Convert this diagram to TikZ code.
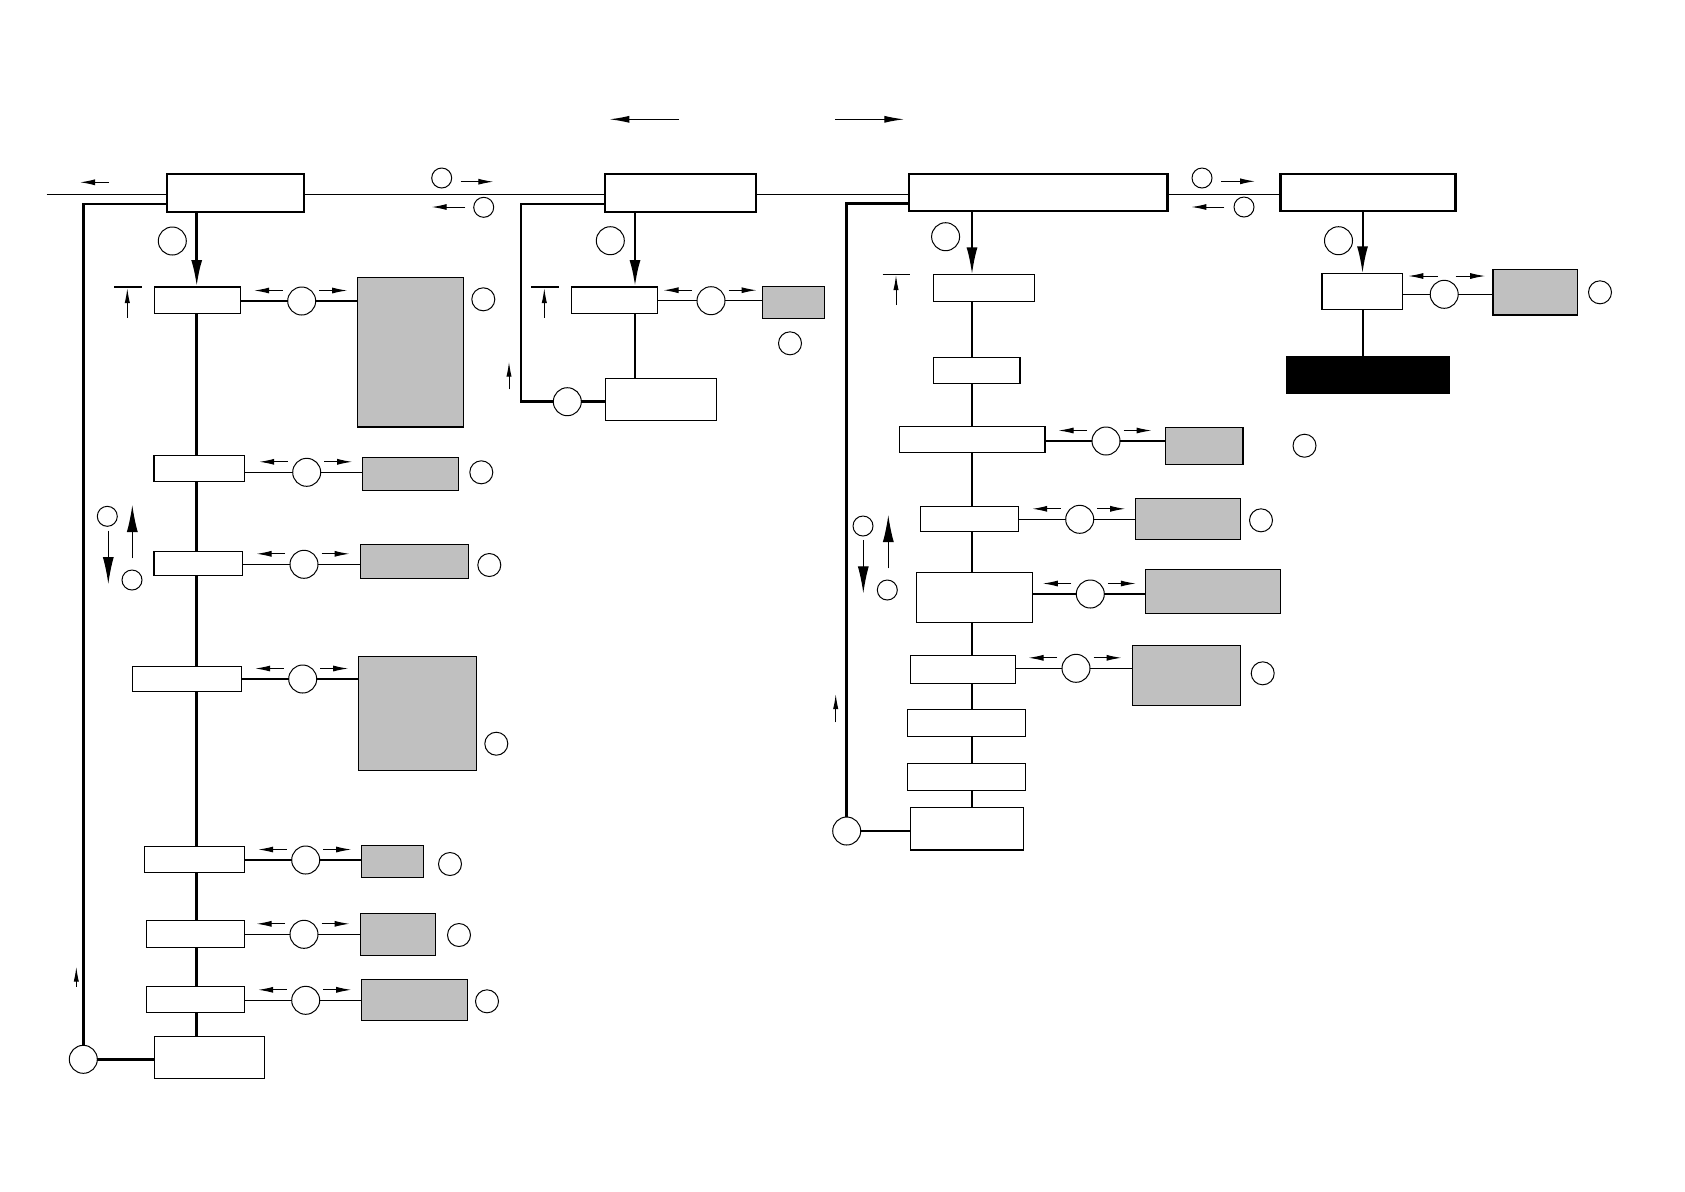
\documentclass[tikz,border=0pt]{standalone}
\usetikzlibrary{arrows.meta}
\definecolor{boxgray}{RGB}{192,192,192}
\tikzset{
 every node/.style={inner sep=0pt, outer sep=0pt},
 wbox/.style={draw, fill=white, line width=0.6pt},
 hbox/.style={draw, fill=white, line width=1.1pt},
 gbox/.style={draw, fill=boxgray, line width=0.6pt},
 kbox/.style={draw, fill=black, line width=0.6pt},
 bigc/.style={circle, draw, fill=white, line width=0.5pt, minimum size=14pt},
 lblc/.style={circle, draw, line width=0.5pt, minimum size=11.5pt},
 smc/.style={circle, draw, line width=0.5pt, minimum size=10pt},
 thinln/.style={line width=0.6pt},
 thickln/.style={line width=1.4pt},
 sarr/.style={line width=0.5pt, -{Latex[length=7.5pt,width=3pt]}},
 tarr/.style={line width=0.6pt, -{Latex[length=10pt,width=3.5pt]}},
 barr/.style={line width=1.4pt, -{Latex[length=13.5pt,width=5.5pt]}},
 garr/.style={line width=0.6pt, -{Latex[length=13.5pt,width=5.5pt]}},
 uarr/.style={line width=0.5pt, -{Latex[length=7.5pt,width=2.6pt]}},
}
\newcommand\mkbox[6]{\pgfmathsetmacro\myBw{(#5-#3)*0.5}\pgfmathsetmacro\myBh{(#6-#4)*0.5}%
 \node[#1,minimum width=\myBw pt,minimum height=\myBh pt] (#2) at ({(#3+#5)/2},{(#4+#6)/2}) {};}
\newcommand\arrs[1]{%
 \draw[sarr] ([shift={(-19,-10.5)}]#1.center) -- ++(-28.5,0);
 \draw[sarr] ([shift={(17.5,-10.5)}]#1.center) -- ++(28,0);}
\newcommand\conn[3]{%
 \draw[thinln] (#1.east |- #2) -- (#2);
 \draw[thinln] (#2) -- (#3.west |- #2);}
\begin{document}
\begin{tikzpicture}[x=0.5pt,y=-0.5pt]
\useasboundingbox (0,0) rectangle (1685,1191);
\fill[white] (0,0) rectangle (1685,1191);
% coordinates
\coordinate (m0) at (46.7,194.3);
\coordinate (sA) at (196.7,0);
\coordinate (sB) at (635,0);
\coordinate (sC) at (972,0);
\coordinate (sD) at (1362.5,0);
% header boxes
\mkbox{hbox}{A1}{166.7}{174.3}{304}{211.7}
\mkbox{hbox}{B1}{605}{174.3}{756}{211.7}
\mkbox{hbox}{C1}{909.2}{174.3}{1167.5}{211.3}
\mkbox{hbox}{D1}{1280.5}{174.3}{1455.5}{211.3}
% main line
\draw[thinln] (m0) -- (A1.west |- m0);
\draw[thinln] (A1.east |- m0) -- (B1.west |- m0);
\draw[thinln] (B1.east |- m0) -- (C1.west |- m0);
\draw[thinln] (C1.east |- m0) -- (D1.west |- m0);
% top arrows
\coordinate (t1) at (679,119.3);
\coordinate (t2) at (835,119.3);
\draw[tarr] (t1) -- ++(-69.7,0);
\draw[tarr] (t2) -- ++(69.3,0);
\coordinate (t0) at (109,182.3);
\draw[sarr] (t0) -- ++(-29,0);
% A-B and C-D header circles/arrows
\node[smc] (ab1) at (441.7,178) {};
\node[smc] (ab2) at (483.7,207.3) {};
\draw[sarr] ([shift={(19,3.7)}]ab1.center) -- ++(32.6,0);
\draw[sarr] ([shift={(-18.4,-0.3)}]ab2.center) -- ++(-33.6,0);
\node[smc] (cd1) at (1202,178) {};
\node[smc] (cd2) at (1244,207) {};
\draw[sarr] ([shift={(19,3.3)}]cd1.center) -- ++(34,0);
\draw[sarr] ([shift={(-19.6,0)}]cd2.center) -- ++(-33,0);

%================ A column
\node[bigc] (hA) at (172.3,241) {};
\mkbox{wbox}{A2}{154.3}{287}{240.3}{313.3}
\mkbox{wbox}{A3}{154}{455.3}{244.3}{481.3}
\mkbox{wbox}{A4}{154}{551.3}{242.3}{575.3}
\mkbox{wbox}{A5}{132.3}{666.3}{241.7}{691.3}
\mkbox{wbox}{A6}{144.3}{846.3}{244.7}{872.3}
\mkbox{wbox}{A7}{146.3}{920.3}{244.7}{947.3}
\mkbox{wbox}{A8}{146.3}{986.3}{244.7}{1012.3}
\mkbox{wbox}{A9}{154.3}{1036.3}{264.3}{1078.3}
\draw[barr] (A1.south -| sA) -- (A2.north -| sA);
\foreach \p/\q in {A2/A3,A3/A4,A4/A5,A5/A6,A6/A7,A7/A8,A8/A9}
  \draw[thickln] (\p.south -| sA) -- (\q.north -| sA);
\mkbox{gbox}{GA2}{357.3}{277.3}{463.3}{427}
\mkbox{gbox}{GA3}{362.3}{457.3}{458.3}{490.3}
\mkbox{gbox}{GA4}{360.3}{544.3}{468.3}{578.3}
\mkbox{gbox}{GA5}{358.3}{656.3}{476.3}{770.3}
\mkbox{gbox}{GA6}{361.3}{845.3}{423.3}{877.3}
\mkbox{gbox}{GA7}{360.3}{913.3}{435.7}{955.3}
\mkbox{gbox}{GA8}{361.3}{979.7}{467.3}{1020.3}
\node[bigc] (cA2) at (301.7,301) {};
\node[bigc] (cA3) at (306.7,472.3) {};
\node[bigc] (cA4) at (304,564.3) {};
\node[bigc] (cA5) at (302.7,679) {};
\node[bigc] (cA6) at (305.7,860) {};
\node[bigc] (cA7) at (304,934.3) {};
\node[bigc] (cA8) at (305.7,1000.3) {};
\foreach \n in {2,3,4,5,6,7,8}{\conn{A\n}{cA\n}{GA\n}\arrs{cA\n}}
\node[lblc] (lA2) at (483.3,299.3) {};
\node[lblc] (lA3) at (481.3,472.3) {};
\node[lblc] (lA4) at (489.3,565) {};
\node[lblc] (lA5) at (496.3,743.7) {};
\node[lblc] (lA6) at (450,864) {};
\node[lblc] (lA7) at (459,935) {};
\node[lblc] (lA8) at (487,1001.3) {};
% bar symbol A
\coordinate (barA) at (114,286.7);
\draw[line width=1pt] (barA) -- ++(27.7,0);
\coordinate (barAa) at (127.3,317.7);
\draw[uarr] (barAa) -- ++(0,-29.7);
% left group A
\node[smc] (gA1) at (107.3,516.3) {};
\node[smc] (gA2) at (132,580) {};
\draw[garr] ([shift={(1,14.4)}]gA1.center) -- ++(0,53.3);
\draw[garr] ([shift={(0.3,-21.7)}]gA2.center) -- ++(0,-53.3);
% return A
\node[bigc] (rA) at (83.3,1059.3) {};
\draw[thickln] (A1.west |- 0,204) -| (rA);
\draw[thickln] (rA) -- (A9.west |- rA);
\coordinate (uA) at (76.3,986.7);
\draw[uarr] (uA) -- ++(0,-20);

%================ B column
\node[bigc] (hB) at (610.3,240.7) {};
\mkbox{wbox}{B2}{571.3}{287}{657.3}{313.3}
\mkbox{wbox}{B3}{605.3}{378.3}{716.7}{420.3}
\mkbox{gbox}{GB2}{762.3}{286.3}{824.3}{318.3}
\draw[barr] (B1.south -| sB) -- (B2.north -| sB);
\draw[thickln] (B2.south -| sB) -- (B3.north -| sB);
\node[bigc] (cB2) at (711,300.7) {};
\conn{B2}{cB2}{GB2}\arrs{cB2}
\node[lblc] (lB2) at (790,343.3) {};
\coordinate (barB) at (531,286.7);
\draw[line width=1pt] (barB) -- ++(28,0);
\coordinate (barBa) at (544.3,317.7);
\draw[uarr] (barBa) -- ++(0,-29.7);
\node[bigc] (rB) at (567.3,401.7) {};
\draw[thickln] (B1.west |- 0,204) -| (521,401.7) -- (rB);
\draw[thickln] (rB) -- (B3.west |- rB);
\coordinate (uB) at (509,389.3);
\draw[uarr] (uB) -- ++(0,-27.6);

%================ C column
\node[bigc] (hC) at (945.6,236.7) {};
\mkbox{wbox}{C2}{933.8}{274.3}{1034.4}{301.3}
\mkbox{wbox}{C3}{933.8}{357.3}{1020}{383.3}
\mkbox{wbox}{C4}{899.5}{426.3}{1045}{452.3}
\mkbox{wbox}{C5}{920.3}{506.3}{1018.7}{531.3}
\mkbox{wbox}{C6}{916.3}{572.3}{1032.3}{622.3}
\mkbox{wbox}{C7}{910.3}{655.3}{1015.3}{683.3}
\mkbox{wbox}{C8}{907.3}{709.3}{1025.3}{736.3}
\mkbox{wbox}{C9}{907.3}{763.7}{1025.3}{790.3}
\mkbox{wbox}{C10}{910.3}{807.3}{1023.3}{850}
\draw[barr, line width=1pt] (C1.south -| sC) -- (C2.north -| sC);
\foreach \p/\q in {C2/C3,C3/C4,C4/C5,C5/C6,C6/C7,C7/C8,C8/C9,C9/C10}
  \draw[thickln] (\p.south -| sC) -- (\q.north -| sC);
\mkbox{gbox}{GC4}{1165.6}{427.3}{1243}{464.3}
\mkbox{gbox}{GC5}{1135.3}{498.7}{1240.3}{539.3}
\mkbox{gbox}{GC6}{1145.3}{569.3}{1280.3}{613.3}
\mkbox{gbox}{GC7}{1132.3}{645.3}{1240.3}{705.3}
\node[bigc] (cC4) at (1106,441) {};
\node[bigc] (cC5) at (1079.7,519.3) {};
\node[bigc] (cC6) at (1090.3,594) {};
\node[bigc] (cC7) at (1076,668.3) {};
\foreach \n in {4,5,6,7}{\conn{C\n}{cC\n}{GC\n}\arrs{cC\n}}
\node[lblc] (lC4) at (1304.5,445.7) {};
\node[lblc] (lC5) at (1261,520.3) {};
\node[lblc] (lC7) at (1262.7,673.3) {};
\coordinate (barC) at (882.6,274.3);
\draw[line width=0.6pt] (barC) -- ++(27.1,0);
\coordinate (barCa) at (896,305);
\draw[uarr] (barCa) -- ++(0,-30);
\node[smc] (gC1) at (863,526) {};
\node[smc] (gC2) at (887.3,590) {};
\draw[garr] ([shift={(0.3,14.3)}]gC1.center) -- ++(0,53);
\draw[garr] ([shift={(1,-21.7)}]gC2.center) -- ++(0,-53.3);
\node[bigc] (rC) at (846.7,831) {};
\draw[thickln] (C1.west |- 0,203.3) -| (rC);
\draw[thickln] (rC) -- (C10.west |- rC);
\coordinate (uC) at (835.7,722.3);
\draw[uarr] (uC) -- ++(0,-28.3);

%================ D column
\node[bigc] (hD) at (1338.5,240.7) {};
\mkbox{wbox}{D2}{1322}{273.3}{1402.5}{309.3}
\mkbox{gbox}{GD2}{1493}{269.3}{1577.5}{315}
\mkbox{kbox}{KD}{1287}{357}{1449}{393.7}
\draw[barr, line width=1pt] (D1.south -| sD) -- (D2.north -| sD);
\draw[line width=1pt] (D2.south -| sD) -- (KD.north -| sD);
\node[bigc] (cD2) at (1444.2,294.3) {};
\conn{D2}{cD2}{GD2}
\draw[sarr] ([shift={(-6.7,-18.3)}]cD2.center) -- ++(-29.2,0);
\draw[sarr] ([shift={(11.3,-18.3)}]cD2.center) -- ++(29.7,0);
\node[lblc] (lD2) at (1600,292.3) {};
\end{tikzpicture}
\end{document}
